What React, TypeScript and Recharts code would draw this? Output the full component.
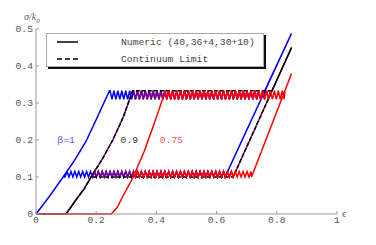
import { LineChart, Line, XAxis, YAxis, ReferenceDot } from 'recharts'

// positions of the plateau teeth (strain)
const TOOTH_E = [
  0.09, 0.0965, 0.103, 0.1095, 0.116, 0.1225, 0.129, 0.1355, 0.142, 0.1485,
  0.155, 0.1615, 0.168, 0.1745, 0.181, 0.1875, 0.194, 0.2005, 0.207, 0.2135,
  0.22, 0.2265, 0.233, 0.2395, 0.246, 0.2525, 0.259, 0.2655, 0.272, 0.2785,
  0.285, 0.2915, 0.298, 0.3045, 0.311, 0.3175, 0.324, 0.3305, 0.337, 0.3435,
  0.35, 0.3565, 0.363, 0.3695, 0.376, 0.3825, 0.389, 0.3955, 0.402, 0.4085,
  0.415, 0.4215, 0.428, 0.4345, 0.441, 0.4475, 0.454, 0.4605, 0.467, 0.4735,
  0.48, 0.4865, 0.493, 0.4995, 0.506, 0.5125, 0.519, 0.5255, 0.532, 0.5385,
  0.545, 0.5515, 0.558, 0.5645, 0.571, 0.5775, 0.584, 0.5905, 0.597, 0.6035,
  0.61, 0.6165, 0.623, 0.6295, 0.636, 0.6425, 0.649, 0.6555, 0.662, 0.6685,
  0.675, 0.6815, 0.688, 0.6945, 0.701, 0.7075, 0.714, 0.7205, 0.727, 0.7335,
  0.74, 0.7465, 0.753, 0.7595, 0.766, 0.7725, 0.779, 0.7855, 0.792, 0.7985,
  0.805, 0.8115, 0.818, 0.8245,
]
const UPPER = [0.333, 0.31] // tooth top, tooth bottom
const LOWER = [0.115, 0.1]

const BLUE_LOAD = [[0, 0], [0.045, 0.048], [0.09, 0.1], [0.128, 0.145], [0.166, 0.196], [0.205, 0.264], [0.244, 0.333]]
const BLUE_RIGHT = [[0.76, 0.333], [0.849, 0.488], [0.628, 0.1]]

const PURPLE_LOAD = [[0, 0], [0.1, 0], [0.13, 0.035], [0.16, 0.068], [0.183, 0.1], [0.22, 0.148], [0.255, 0.2], [0.29, 0.262], [0.321, 0.333]]
const PURPLE_RIGHT = [[0.784, 0.333], [0.849, 0.45], [0.655, 0.1]]

const RED_LOAD = [[0, 0], [0.25, 0], [0.27, 0.018], [0.29, 0.05], [0.323, 0.1], [0.36, 0.17], [0.395, 0.25], [0.43, 0.333]]
const RED_RIGHT = [[0.827, 0.333], [0.849, 0.38], [0.716, 0.1]]

const X_TICKS = [0, 0.2, 0.4, 0.6, 0.8, 1]
const Y_TICKS = [0, 0.1, 0.2, 0.3, 0.4, 0.5]

const NOTE_TEXT = ['β=1', '0.9', '0.75']
const NOTE_E = [0.1, 0.31, 0.45]
const NOTE_S = [0.2, 0.2, 0.2]
const NOTE_COLOR = ['#5c5cff', '#333', '#ff5050']

const LEGEND_NAMES = ['Numeric (40,36+4,30+10)', 'Continuum Limit']

const MONO = "'Liberation Mono', 'DejaVu Sans Mono', monospace"

const pts = (a: number[][]) => a.map(([e, s]) => ({ e, s }))

function teeth(a: number, b: number, [hi, lo]: number[]) {
  return TOOTH_E.map((e, i) => ({ e, s: i % 2 ? lo : hi })).filter((p) => p.e > Math.min(a, b) && p.e < Math.max(a, b))
}

function loop(load: number[][], right: number[][]) {
  const top = load[load.length - 1]
  const bottom = right[right.length - 1]
  const back = load.filter(([, s]) => s <= 0.1).reverse()
  return [
    ...pts(load),
    ...teeth(top[0], right[0][0], UPPER),
    ...pts(right),
    ...teeth(back[0][0], bottom[0], LOWER).reverse(),
    ...pts(back),
  ]
}

function continuum(load: number[][], right: number[][]) {
  const back = load.filter(([, s]) => s <= 0.1).reverse()
  return [...pts(load), ...pts(right), ...pts(back)]
}

const blue = loop(BLUE_LOAD, BLUE_RIGHT)
const purple = loop(PURPLE_LOAD, PURPLE_RIGHT)
const dashed = continuum(PURPLE_LOAD, PURPLE_RIGHT)
const red = loop(RED_LOAD, RED_RIGHT)

const tickStyle = { fill: '#555', fontSize: 9.7, fontFamily: MONO }

export default function App() {
  return (
    <div style={{ position: 'absolute', left: 0, top: 0, width: 376, height: 245, background: '#fff' }}>
      <LineChart width={376} height={245} margin={{ top: 29, right: 39, bottom: 0, left: 0 }}>
        <XAxis
          type="number"
          dataKey="e"
          domain={[0, 1]}
          ticks={X_TICKS}
          interval={0}
          tickFormatter={(v) => String(v)}
          height={31}
          tickSize={-3}
          tickMargin={5}
          stroke="#999"
          tick={tickStyle}
        />
        <YAxis
          type="number"
          domain={[0, 0.5]}
          ticks={Y_TICKS}
          interval={0}
          tickFormatter={(v) => String(v)}
          width={36}
          tickSize={-3}
          tickMargin={6}
          stroke="#999"
          tick={tickStyle}
        />
        <Line data={blue} dataKey="s" stroke="#0000ff" strokeWidth={1.5} dot={false} isAnimationActive={false} />
        <Line data={purple} dataKey="s" stroke="#800080" strokeWidth={1.5} dot={false} isAnimationActive={false} />
        <Line data={dashed} dataKey="s" stroke="#000" strokeWidth={1.5} strokeDasharray="4 2" dot={false} isAnimationActive={false} />
        <Line data={red} dataKey="s" stroke="#ff0000" strokeWidth={1.5} dot={false} isAnimationActive={false} />
        {NOTE_TEXT.map((t, i) => (
          <ReferenceDot
            key={t}
            x={NOTE_E[i]}
            y={NOTE_S[i]}
            r={0}
            fill="none"
            stroke="none"
            label={{ value: t, position: 'center', fill: NOTE_COLOR[i], fontSize: 9.7, fontFamily: MONO }}
          />
        ))}
      </LineChart>

      <div style={{ position: 'absolute', left: 24, top: 11, fontFamily: "'Liberation Serif', serif", fontStyle: 'italic', fontSize: 10, color: '#666' }}>
        σ/k<sub style={{ fontSize: 7 }}>0</sub>
      </div>
      <div style={{ position: 'absolute', left: 342, top: 207, fontFamily: "'Liberation Serif', serif", fontSize: 11, color: '#666' }}>ϵ</div>

      <div
        style={{
          position: 'absolute',
          left: 46,
          top: 33,
          width: 216,
          height: 32,
          border: '1px solid #aaa',
          background: '#fff',
          boxShadow: '2px 2px 0 #111',
          fontFamily: MONO,
          fontSize: 9.7,
          color: '#444',
        }}
      >
        {LEGEND_NAMES.map((name, i) => (
          <div key={name} style={{ position: 'absolute', left: 0, top: 2 + i * 17, height: 12, display: 'flex', alignItems: 'center', whiteSpace: 'pre' }}>
            <svg width={40} height={12}>
              <line x1={10} x2={31} y1={6} y2={6} stroke="#000" strokeWidth={1.5} strokeDasharray={i ? '5 3' : undefined} />
            </svg>
            <span style={{ marginLeft: 34 }}>{name}</span>
          </div>
        ))}
      </div>
    </div>
  )
}
